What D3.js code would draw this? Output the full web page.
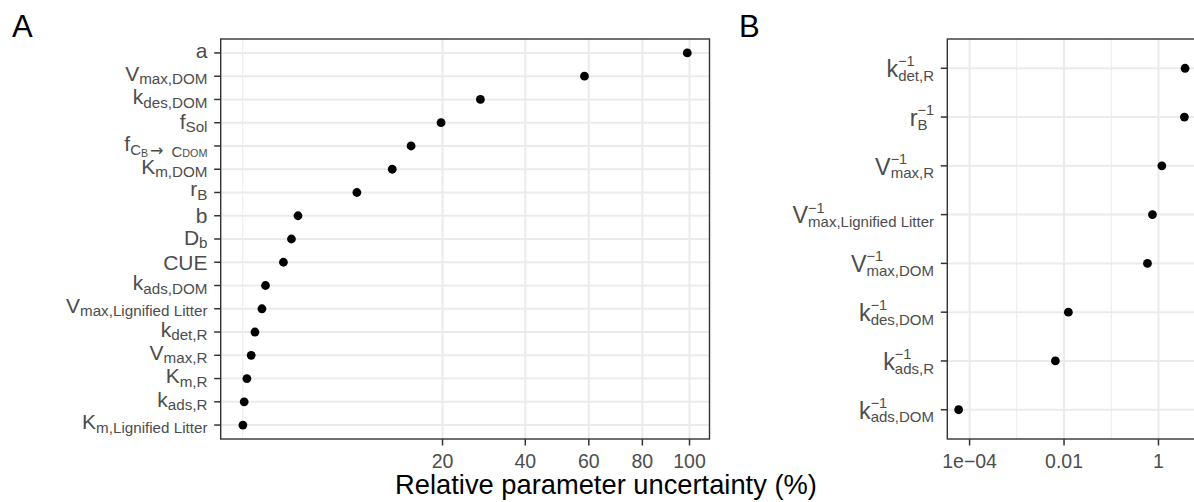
<!DOCTYPE html>
<html><head><meta charset="utf-8">
<script src="https://cdn.jsdelivr.net/npm/d3@7"></script>
<style>
body{margin:0;background:#fff}
svg{display:block}
text{font-family:"Liberation Sans",Arial,Helvetica,sans-serif}
</style>
</head><body>
<svg id="chart" width="1194" height="502"></svg>
<script>
// ---------- data ----------
const categoriesA = ["a","V_max,DOM","k_des,DOM","f_Sol","f_C_B → C_DOM","K_m,DOM","r_B","b","D_b","CUE",
  "k_ads,DOM","V_max,Lignified Litter","k_det,R","V_max,R","K_m,R","k_ads,R","K_m,Lignified Litter"];
const valuesA = [99, 58.5, 28.3, 19.7, 14.2, 11.2, 6.53, 1.53, 1.19, 0.83, 0.26, 0.185, 0.075, 0.036, 0.0088, 0.0011, 0.00002];
const ticksA = [20, 40, 60, 80, 100];
const minorTicksA = [0];

const categoriesB = ["k^\u22121_det,R","r^\u22121_B","V^\u22121_max,R","V^\u22121_max,Lignified Litter",
  "V^\u22121_max,DOM","k^\u22121_des,DOM","k^\u22121_ads,R","k^\u22121_ads,DOM"];
const valuesB = [3.66, 3.54, 1.18, 0.746, 0.585, 0.01236, 0.00656, 0.0000586];
const ticksB = [1e-4, 1e-2, 1];
const tickLabelsB = ["1e\u221204", "0.01", "1"];
const minorTicksB = [1e-3, 1e-1, 10];

const axisTitle = "Relative parameter uncertainty (%)";
const panelTags = ["A", "B"];

// ---------- layout ----------
const svg = d3.select("#chart");
const pA = {l: 220.7, r: 709.5, t: 39, b: 439};
const pB = {l: 947.3, r: 1196.4, t: 39, b: 439};
const grid = "#ebebeb", frame = "#333333", tickCol = "#4d4d4d";

const sA = d3.extent(valuesA, v => Math.sqrt(v));
const eA = (sA[1] - sA[0]) * 0.05;
const lo = sA[0] - eA, hi = sA[1] + eA;
const xA = d3.scaleSqrt().domain([Math.sign(lo) * lo * lo, hi * hi]).range([pA.l, pA.r]);
const yA = d3.scalePoint().domain(categoriesA).range([pA.t, pA.b]).padding(0.6);

const lB = d3.extent(valuesB, v => Math.log10(v));
const eB = (lB[1] - lB[0]) * 0.05;
const xB = d3.scaleLog().domain([Math.pow(10, lB[0] - eB), Math.pow(10, lB[1] + eB)]).range([pB.l, pB.r]);
const yB = d3.scalePoint().domain(categoriesB).range([pB.t, pB.b]).padding(0.6);

// ---------- helpers ----------
function ascOf(ch) {
  if (/[A-Z0-9]/.test(ch)) return 0.716;
  if (/[bdfhkl]/.test(ch)) return 0.73;
  if (/[ijt]/.test(ch)) return 0.68;
  if (/[a-z]/.test(ch)) return 0.519;
  if (ch === ",") return 0.1;
  return 0.5;
}
function descOf(ch) {
  if (/[gjpqy]/.test(ch)) return 0.21;
  if (ch === ",") return 0.15;
  return 0;
}

function drawRuns(parent, runs, xRight, yBase, fill) {
  const g = parent.append("g");
  let x = 0, maxX = 0, stackStart = null;
  runs.forEach(r => {
    let sx = x + (r.dx || 0);
    if (r.stack && stackStart !== null) sx = stackStart;
    const t = g.append("text").attr("x", sx).attr("y", r.base)
      .attr("font-size", r.size).attr("fill", fill).text(r.text);
    if (r.font) t.style("font-family", r.font);
    const w = t.node().getComputedTextLength();
    if (r.markStack) stackStart = sx;
    x = sx + w;
    maxX = Math.max(maxX, x);
  });
  g.attr("transform", `translate(${xRight - maxX},${yBase})`);
  return g;
}

function labelA(cat) {
  const M = 21, S = 15.2, shift = 3.5;
  if (cat.indexOf("→") >= 0) {
    return {off: 5, runs: [
      {text: "f", size: M, base: 0},
      {text: "C", size: 15, base: 4.3},
      {text: "B", size: 10.5, base: 6},
      {text: "\u2192", size: 16, base: 5.5, dx: 2, font: "'DejaVu Sans', sans-serif"},
      {text: "C", size: 15, base: 5.8, dx: 8},
      {text: "DOM", size: 10.8, base: 6.3}
    ]};
  }
  const k = cat.indexOf("_");
  const main = k < 0 ? cat : cat.slice(0, k);
  const sub = k < 0 ? "" : cat.slice(k + 1);
  let asc = 0, desc = 0;
  for (const c of main) { asc = Math.max(asc, ascOf(c) * M); desc = Math.max(desc, descOf(c) * M); }
  for (const c of sub) { asc = Math.max(asc, ascOf(c) * S - shift); desc = Math.max(desc, descOf(c) * S + shift); }
  const runs = [{text: main, size: M, base: 0}];
  if (sub) runs.push({text: sub, size: S, base: shift});
  return {off: (asc - desc) / 2, runs};
}

function labelB(cat) {
  const m = cat.match(/^([^\^]+)\^([^_]+)_(.+)$/);
  return {off: 8.8, runs: [
    {text: m[1], size: 23.3, base: 0},
    {text: m[2], size: 14.5, base: -10.8, markStack: true},
    {text: m[3], size: 15, base: 3.8, stack: true}
  ]};
}

// ---------- panel A ----------
const gA = svg.append("g");
gA.append("rect").attr("x", pA.l).attr("y", pA.t).attr("width", pA.r - pA.l).attr("height", pA.b - pA.t).attr("fill", "#fff");
gA.selectAll(".mgA").data(minorTicksA).join("line")
  .attr("x1", d => xA(d)).attr("x2", d => xA(d)).attr("y1", pA.t).attr("y2", pA.b)
  .attr("stroke", grid).attr("stroke-width", 1);
gA.selectAll(".vgA").data(ticksA).join("line")
  .attr("x1", d => xA(d)).attr("x2", d => xA(d)).attr("y1", pA.t).attr("y2", pA.b)
  .attr("stroke", grid).attr("stroke-width", 2);
gA.selectAll(".hgA").data(categoriesA).join("line")
  .attr("x1", pA.l).attr("x2", pA.r).attr("y1", d => yA(d)).attr("y2", d => yA(d))
  .attr("stroke", grid).attr("stroke-width", 2);
gA.selectAll(".ptA").data(categoriesA).join("circle")
  .attr("cx", (d, i) => xA(valuesA[i])).attr("cy", d => yA(d)).attr("r", 4.4).attr("fill", "#000");
gA.append("rect").attr("x", pA.l).attr("y", pA.t).attr("width", pA.r - pA.l).attr("height", pA.b - pA.t)
  .attr("fill", "none").attr("stroke", frame).attr("stroke-width", 1.4);
gA.selectAll(".xtA").data(ticksA).join("line")
  .attr("x1", d => xA(d)).attr("x2", d => xA(d)).attr("y1", pA.b).attr("y2", pA.b + 6.5)
  .attr("stroke", frame).attr("stroke-width", 1.5);
gA.selectAll(".xlA").data(ticksA).join("text")
  .attr("x", d => xA(d)).attr("y", 468.3).attr("text-anchor", "middle")
  .attr("font-size", 19.5).attr("fill", tickCol).text(d => d);
gA.selectAll(".ytA").data(categoriesA).join("line")
  .attr("x1", pA.l - 6.5).attr("x2", pA.l).attr("y1", d => yA(d)).attr("y2", d => yA(d))
  .attr("stroke", frame).attr("stroke-width", 1.5);
categoriesA.forEach(c => {
  const L = labelA(c);
  drawRuns(gA, L.runs, 207.5, yA(c) + L.off, tickCol);
});

// ---------- panel B ----------
const gB = svg.append("g");
gB.append("rect").attr("x", pB.l).attr("y", pB.t).attr("width", pB.r - pB.l).attr("height", pB.b - pB.t).attr("fill", "#fff");
gB.selectAll(".mgB").data(minorTicksB).join("line")
  .attr("x1", d => xB(d)).attr("x2", d => xB(d)).attr("y1", pB.t).attr("y2", pB.b)
  .attr("stroke", grid).attr("stroke-width", 1);
gB.selectAll(".vgB").data(ticksB).join("line")
  .attr("x1", d => xB(d)).attr("x2", d => xB(d)).attr("y1", pB.t).attr("y2", pB.b)
  .attr("stroke", grid).attr("stroke-width", 2);
gB.selectAll(".hgB").data(categoriesB).join("line")
  .attr("x1", pB.l).attr("x2", pB.r).attr("y1", d => yB(d)).attr("y2", d => yB(d))
  .attr("stroke", grid).attr("stroke-width", 2);
gB.selectAll(".ptB").data(categoriesB).join("circle")
  .attr("cx", (d, i) => xB(valuesB[i])).attr("cy", d => yB(d)).attr("r", 4.4).attr("fill", "#000");
gB.append("rect").attr("x", pB.l).attr("y", pB.t).attr("width", pB.r - pB.l).attr("height", pB.b - pB.t)
  .attr("fill", "none").attr("stroke", frame).attr("stroke-width", 1.4);
gB.selectAll(".xtB").data(ticksB).join("line")
  .attr("x1", d => xB(d)).attr("x2", d => xB(d)).attr("y1", pB.b).attr("y2", pB.b + 6.5)
  .attr("stroke", frame).attr("stroke-width", 1.5);
gB.selectAll(".xlB").data(ticksB).join("text")
  .attr("x", d => xB(d)).attr("y", 468.3).attr("text-anchor", "middle")
  .attr("font-size", 19.5).attr("fill", tickCol).text((d, i) => tickLabelsB[i]);
gB.selectAll(".ytB").data(categoriesB).join("line")
  .attr("x1", pB.l - 6.5).attr("x2", pB.l).attr("y1", d => yB(d)).attr("y2", d => yB(d))
  .attr("stroke", frame).attr("stroke-width", 1.5);
categoriesB.forEach(c => {
  const L = labelB(c);
  drawRuns(gB, L.runs, 934, yB(c) + L.off, tickCol);
});

// ---------- titles ----------
svg.append("text").attr("x", 606).attr("y", 493.5).attr("text-anchor", "middle")
  .attr("font-size", 27.3).attr("fill", "#000").text(axisTitle);
svg.append("text").attr("x", 12).attr("y", 37.3).attr("font-size", 31).attr("fill", "#000").text(panelTags[0]);
svg.append("text").attr("x", 739).attr("y", 37).attr("font-size", 31).attr("fill", "#000").text(panelTags[1]);
</script>
</body></html>
